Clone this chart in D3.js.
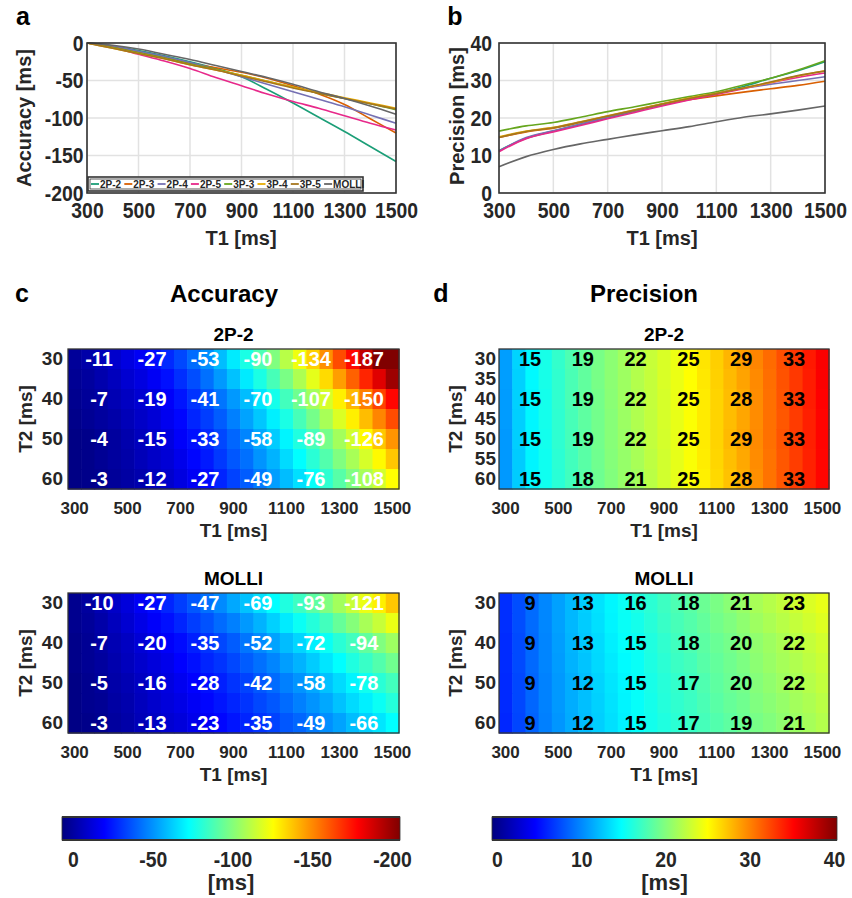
<!DOCTYPE html>
<html><head><meta charset="utf-8">
<script src="https://cdn.jsdelivr.net/npm/d3@7"></script>
<style>
body{margin:0;background:#fff;}
svg{display:block;}
text{font-family:"Liberation Sans",Arial,Helvetica,sans-serif;}
</style>
</head><body>
<svg id="chart" width="852" height="898"></svg>
<script>
// ---------------- DATA ----------------
const seriesNames = ["2P-2","2P-3","2P-4","2P-5","3P-3","3P-4","3P-5","MOLLI"];
const lineT1 = [300,400,500,600,700,800,900,1000,1100,1200,1300,1400,1500];

// panel a: accuracy [ms] per series at lineT1
const acc_2P2  = [0,-4,-10,-17,-25,-34,-45,-62,-80,-99,-118,-138,-158];
const acc_2P3  = [0,-5,-12,-19,-27,-33,-39,-47,-57,-68,-82,-101,-120];
const acc_2P4  = [0,-4,-11,-18,-26,-35,-45,-55,-65,-75,-85,-96,-107];
const acc_2P5  = [0,-6,-15,-24,-34,-46,-57,-68,-78,-87,-97,-107,-116];
const acc_3P3  = [0,-6,-13,-20,-28,-35,-43,-51,-59,-67,-74,-81,-89];
const acc_3P4  = [0,-7,-14,-21,-29,-36,-43,-51,-59,-66,-73,-80,-87];
const acc_3P5  = [0,-7,-14,-21,-29,-36,-44,-52,-60,-67,-74,-81,-88];
const acc_MOLLI= [0,-3,-8,-15,-22,-30,-38,-46,-55,-65,-74,-84,-95];

// panel b: precision [ms] per series at lineT1
const prec_2P2  = [11.3,14.6,16.5,18.3,20.0,21.8,23.5,25.0,26.5,28.4,30.6,32.6,35.0];
const prec_2P3  = [14.8,16.3,17.3,18.8,20.4,22.0,23.6,24.9,25.9,26.9,27.8,28.7,29.8];
const prec_2P4  = [11.2,14.8,16.6,18.4,20.2,22.0,23.7,25.2,26.6,27.9,29.0,30.0,31.0];
const prec_2P5  = [11.0,14.5,16.3,18.0,19.8,21.5,23.2,24.8,26.3,27.8,29.4,30.8,32.0];
const prec_3P3  = [16.5,17.9,18.8,20.2,21.7,23.0,24.4,25.7,27.0,28.8,30.6,32.8,35.3];
const prec_3P4  = [15.0,16.5,17.5,19.0,20.6,22.2,23.8,25.3,26.6,28.0,29.5,31.2,32.6];
const prec_3P5  = [14.8,16.4,17.4,18.9,20.5,22.1,23.7,25.2,26.5,28.0,29.6,31.3,32.5];
const prec_MOLLI= [7.0,9.7,11.6,13.1,14.3,15.5,16.6,17.7,19.0,20.2,21.1,22.1,23.2];

// heatmap grid
const gridT1 = [300,350,400,450,500,550,600,650,700,750,800,850,900,950,1000,1050,1100,1150,1200,1250,1300,1350,1400,1450,1500];
const gridT2 = [30,35,40,45,50,55,60];

const accMap_2P2 = [
 [-5,-8,-11,-15,-19,-23,-27,-33,-39,-46,-53,-62,-71,-80,-90,-100,-111,-122,-134,-147,-160,-173,-187,-201,-215],
 [-4,-6,-9,-12,-16,-19,-23,-28,-34,-40,-47,-55,-63,-71,-80,-89,-99,-109,-120,-132,-144,-156,-168,-181,-194],
 [-3,-5,-7,-10,-13,-16,-19,-24,-29,-35,-41,-48,-55,-62,-70,-79,-88,-97,-107,-117,-128,-139,-150,-162,-174],
 [-2,-4,-6,-8,-11,-14,-17,-22,-26,-32,-37,-43,-50,-57,-64,-72,-80,-89,-98,-108,-118,-128,-138,-149,-160],
 [-1,-2,-4,-6,-9,-12,-15,-19,-24,-28,-33,-39,-45,-51,-58,-65,-73,-81,-89,-98,-107,-116,-126,-136,-146],
 [-1,-2,-4,-6,-8,-11,-14,-17,-21,-26,-30,-36,-42,-47,-54,-60,-68,-75,-83,-91,-100,-108,-117,-126,-136],
 [-1,-2,-3,-5,-7,-9,-12,-15,-19,-23,-27,-32,-38,-43,-49,-56,-62,-69,-76,-84,-92,-100,-108,-116,-125]
];
const accMap_MOLLI = [
 [-3,-6,-10,-14,-18,-23,-27,-32,-37,-42,-47,-52,-58,-63,-69,-75,-81,-87,-93,-100,-107,-114,-121,-128,-136],
 [-3,-5,-8,-12,-16,-20,-24,-28,-32,-37,-41,-46,-50,-55,-60,-66,-71,-77,-82,-88,-95,-101,-108,-114,-121],
 [-2,-4,-7,-10,-13,-17,-20,-24,-27,-31,-35,-39,-43,-48,-52,-57,-62,-67,-72,-77,-83,-88,-94,-100,-106],
 [-2,-4,-6,-9,-12,-15,-18,-21,-25,-28,-32,-35,-39,-43,-47,-51,-56,-60,-65,-70,-75,-81,-86,-91,-97],
 [-1,-3,-5,-8,-10,-13,-16,-19,-22,-25,-28,-31,-35,-38,-42,-46,-50,-54,-58,-63,-68,-73,-78,-83,-88],
 [-1,-3,-4,-7,-9,-12,-15,-18,-20,-23,-26,-29,-32,-35,-39,-42,-46,-50,-54,-58,-63,-68,-72,-77,-82],
 [-1,-2,-3,-6,-8,-11,-13,-16,-18,-21,-23,-26,-29,-32,-35,-38,-42,-45,-49,-53,-57,-62,-66,-70,-75]
];
const precMap_2P2 = [
 [11.2,13.3,14.8,15.9,17.0,18.0,18.9,19.7,20.5,21.3,22.0,22.8,23.5,24.3,25.1,26.0,26.9,27.9,28.8,29.8,30.8,31.9,32.9,34.0,35.2],
 [11.2,13.2,14.8,15.9,16.9,17.9,18.8,19.7,20.5,21.2,22.0,22.7,23.5,24.2,25.0,25.9,26.8,27.7,28.6,29.6,30.7,31.8,32.8,33.9,35.1],
 [11.1,13.2,14.7,15.8,16.9,17.9,18.8,19.6,20.4,21.2,21.9,22.7,23.4,24.2,25.0,25.8,26.7,27.6,28.4,29.5,30.6,31.7,32.8,33.9,35.0],
 [11.1,13.1,14.7,15.8,16.8,17.8,18.7,19.5,20.3,21.1,21.9,22.6,23.4,24.1,24.9,25.8,26.7,27.6,28.5,29.5,30.6,31.6,32.7,33.8,34.9],
 [11.0,13.1,14.7,15.7,16.8,17.7,18.6,19.5,20.3,21.0,21.8,22.6,23.3,24.1,24.9,25.8,26.7,27.7,28.6,29.6,30.6,31.7,32.7,33.8,34.9],
 [11.0,13.0,14.6,15.6,16.7,17.6,18.5,19.4,20.2,20.9,21.6,22.4,23.2,24.0,24.8,25.7,26.6,27.5,28.4,29.5,30.5,31.6,32.6,33.7,34.8],
 [11.0,13.0,14.6,15.6,16.6,17.5,18.4,19.3,20.1,20.9,21.4,22.3,23.2,24.0,24.8,25.6,26.5,27.4,28.3,29.4,30.5,31.6,32.6,33.7,34.8]
];
const precMap_MOLLI = [
 [6.8,8.0,9.2,10.3,11.3,12.2,13.1,13.9,14.7,15.4,16.1,16.7,17.4,18.0,18.5,19.2,19.8,20.4,21.0,21.6,22.1,22.6,23.1,23.6,24.1],
 [6.8,8.0,9.2,10.3,11.3,12.2,13.0,13.8,14.6,15.3,15.8,16.5,17.2,17.8,18.3,18.9,19.5,20.0,20.6,21.2,21.7,22.2,22.7,23.2,23.7],
 [6.7,7.9,9.1,10.2,11.2,12.1,12.9,13.6,14.4,15.1,15.4,16.2,16.9,17.5,18.0,18.6,19.1,19.6,20.2,20.7,21.2,21.7,22.2,22.7,23.2],
 [6.7,7.9,9.1,10.2,11.1,12.0,12.7,13.5,14.2,14.9,15.3,16.1,16.7,17.3,17.7,18.4,18.9,19.4,19.9,20.5,21.0,21.5,21.9,22.4,22.9],
 [6.6,7.8,9.0,10.1,11.0,11.8,12.5,13.3,14.0,14.7,15.2,15.9,16.5,17.0,17.4,18.1,18.7,19.2,19.6,20.2,20.7,21.2,21.6,22.1,22.6],
 [6.6,7.8,9.0,10.1,11.0,11.8,12.5,13.2,13.9,14.6,15.2,15.8,16.4,16.9,17.3,17.9,18.5,19.0,19.4,20.0,20.4,20.9,21.4,21.8,22.3],
 [6.5,7.7,8.9,10.0,10.9,11.7,12.4,13.1,13.8,14.5,15.1,15.7,16.2,16.7,17.2,17.7,18.2,18.7,19.2,19.7,20.1,20.6,21.1,21.5,22.0]
];

// annotated values
const labelT1 = [400,600,800,1000,1200,1400];
const labelT2 = [30,40,50,60];
const accLab_2P2   = [[-11,-27,-53,-90,-134,-187],[-7,-19,-41,-70,-107,-150],[-4,-15,-33,-58,-89,-126],[-3,-12,-27,-49,-76,-108]];
const accLab_MOLLI = [[-10,-27,-47,-69,-93,-121],[-7,-20,-35,-52,-72,-94],[-5,-16,-28,-42,-58,-78],[-3,-13,-23,-35,-49,-66]];
const precLab_2P2  = [[15,19,22,25,29,33],[15,19,22,25,28,33],[15,19,22,25,29,33],[15,18,21,25,28,33]];
const precLab_MOLLI= [[9,13,16,18,21,23],[9,13,15,18,20,22],[9,12,15,17,20,22],[9,12,15,17,19,21]];

// ticks
const lineXTicks = [300,500,700,900,1100,1300,1500];
const accYTicks = [0,-50,-100,-150,-200];
const precYTicks = [0,10,20,30,40];
const heatXTicks = [300,500,700,900,1100,1300,1500];
const heatYTicksA = [30,40,50,60];
const heatYTicksB = [30,35,40,45,50,55,60];
const accBarTicks = [0,-50,-100,-150,-200];
const precBarTicks = [0,10,20,30,40];

// ---------------- STYLE ----------------
const palette = ["#1b9e77","#d95f02","#7570b3","#e7298a","#66a61e","#e6ab02","#a6761d","#666666"];
const ink = "#262626";
const gridCol = "#e2e2e2";

function jet(t){
  t = Math.max(0, Math.min(1, t));
  const c = v => Math.round(255*Math.max(0, Math.min(1, v)));
  return `rgb(${c(Math.min(4*t-1.5, -4*t+4.5))},${c(Math.min(4*t-0.5, -4*t+3.5))},${c(Math.min(4*t+0.5, -4*t+2.5))})`;
}
const accColor = d3.scaleSequential(jet).domain([0,-200]);
const precColor = d3.scaleSequential(jet).domain([0,40]);

const svg = d3.select("#chart");

function styleAxis(g, size, weight, sx){
  g.select(".domain").remove();
  g.selectAll(".tick line").remove();
  g.attr("font-family", null).attr("font-size", null);
  const t = g.selectAll("text").attr("fill", ink).attr("font-size", size).attr("font-weight", weight || "bold");
  if (sx) t.attr("transform", `scale(${sx},1)`);
}

function txt(x, y, s, size, opts){
  opts = opts || {};
  const t = svg.append("text").attr("x", x).attr("y", y).text(s)
    .attr("font-size", size).attr("font-weight", opts.weight || "bold")
    .attr("fill", opts.fill || ink).attr("text-anchor", opts.anchor || "middle");
  if (opts.rotate) t.attr("transform", `rotate(-90,${x},${y})`);
  return t;
}

// ---------------- LINE CHARTS ----------------
function lineChart(p){
  const x = d3.scaleLinear().domain([300,1500]).range([p.x0, p.x1]);
  const y = d3.scaleLinear().domain(p.ydom).range([p.y1, p.y0]);
  const g = svg.append("g");
  g.selectAll(".vg").data(lineXTicks).join("line")
    .attr("x1", d=>x(d)).attr("x2", d=>x(d)).attr("y1", p.y0).attr("y2", p.y1)
    .attr("stroke", gridCol).attr("stroke-width", 1.5);
  g.selectAll(".hg").data(p.yticks).join("line")
    .attr("y1", d=>y(d)).attr("y2", d=>y(d)).attr("x1", p.x0).attr("x2", p.x1)
    .attr("stroke", gridCol).attr("stroke-width", 1.5);
  const line = d3.line().x((d,i)=>x(lineT1[i])).y(d=>y(d)).curve(d3.curveMonotoneX);
  p.series.forEach((s,i)=>{
    g.append("path").datum(s).attr("d", line).attr("fill","none")
      .attr("stroke", palette[i]).attr("stroke-width", 1.6);
  });
  g.append("rect").attr("x", p.x0).attr("y", p.y0).attr("width", p.x1-p.x0).attr("height", p.y1-p.y0)
    .attr("fill","none").attr("stroke","#333").attr("stroke-width",1.6);
  svg.append("g").attr("transform",`translate(0,${p.y1})`)
    .call(d3.axisBottom(x).tickValues(lineXTicks).tickSize(0).tickPadding(9).tickFormat(d3.format("d")))
    .call(g=>styleAxis(g, 22, "bold", 0.88));
  svg.append("g").attr("transform",`translate(${p.x0},0)`)
    .call(d3.axisLeft(y).tickValues(p.yticks).tickSize(0).tickPadding(p.ypad).tickFormat(d=>d3.format("d")(d).replace("−","-")))
    .call(g=>styleAxis(g, 22, "bold", 0.88));
  return {x,y,g};
}

lineChart({x0:87, x1:396, y0:43, y1:193, ydom:[-200,0], yticks:accYTicks, ypad:4,
  series:[acc_2P2,acc_2P3,acc_2P4,acc_2P5,acc_3P3,acc_3P4,acc_3P5,acc_MOLLI]});
lineChart({x0:499, x1:825, y0:43, y1:193, ydom:[0,40], yticks:precYTicks, ypad:8,
  series:[prec_2P2,prec_2P3,prec_2P4,prec_2P5,prec_3P3,prec_3P4,prec_3P5,prec_MOLLI]});

// legend in panel a
{
  const lx = 88, ly = 177, lw = 275, lh = 14;
  const lg = svg.append("g");
  lg.append("rect").attr("x", lx).attr("y", ly).attr("width", lw).attr("height", lh)
    .attr("fill","#fff").attr("stroke","#333").attr("stroke-width",1.6);
  lg.append("rect").attr("x", lx+2).attr("y", ly+2).attr("width", lw-4).attr("height", lh-4)
    .attr("fill","none").attr("stroke","#333").attr("stroke-width",0.8);
  seriesNames.forEach((n,i)=>{
    const ex = lx + 3 + i*33.3;
    lg.append("line").attr("x1", ex).attr("x2", ex+8).attr("y1", ly+lh/2).attr("y2", ly+lh/2)
      .attr("stroke", palette[i]).attr("stroke-width", 1.8);
    lg.append("text").attr("x", ex+9).attr("y", ly+lh/2+3.6).text(n)
      .attr("font-size", 10).attr("font-weight","bold").attr("fill", ink);
  });
}

// panel labels and axis titles
txt(23, 25, "a", 25, {fill:"#000"});
txt(455, 25, "b", 25, {fill:"#000"});
txt(31, 118, "Accuracy [ms]", 20, {rotate:true});
txt(464, 116, "Precision [ms]", 20, {rotate:true});
txt(241, 245, "T1 [ms]", 20);
txt(662, 245, "T1 [ms]", 20);

// ---------------- HEATMAPS ----------------
function heatmap(p){
  const x = d3.scaleBand().domain(gridT1).range([p.x0, p.x1]);
  const y = d3.scaleBand().domain(gridT2).range([p.y0, p.y1]);
  const g = svg.append("g");
  const cells = [];
  p.grid.forEach((row,r)=>row.forEach((v,c)=>cells.push({t1:gridT1[c], t2:gridT2[r], v})));
  g.selectAll("rect.cell").data(cells).join("rect")
    .attr("x", d=>x(d.t1)).attr("y", d=>y(d.t2))
    .attr("width", x.bandwidth()+0.6).attr("height", y.bandwidth()+0.6)
    .attr("fill", d=>p.color(d.v));
  const labs = [];
  p.labels.forEach((row,r)=>row.forEach((v,c)=>labs.push({t1:labelT1[c], t2:labelT2[r], v})));
  g.selectAll("text.val").data(labs).join("text")
    .attr("x", d=>x(d.t1)+x.bandwidth()/2 - 2).attr("y", d=>y(d.t2)+y.bandwidth()/2).attr("dy","0.36em")
    .attr("text-anchor","middle").attr("font-size",20).attr("font-weight","bold")
    .attr("fill", p.textFill).text(d=>d.v);
  g.append("rect").attr("x", p.x0).attr("y", p.y0).attr("width", p.x1-p.x0).attr("height", p.y1-p.y0)
    .attr("fill","none").attr("stroke","#333").attr("stroke-width",1.3);
  svg.append("g").attr("transform",`translate(0,${p.y1})`)
    .call(d3.axisBottom(x).tickValues(heatXTicks).tickSize(0).tickPadding(13))
    .call(g=>styleAxis(g, 17));
  svg.append("g").attr("transform",`translate(${p.x0},0)`)
    .call(d3.axisLeft(y).tickValues(p.yticks).tickSize(0).tickPadding(p.ypad))
    .call(g=>styleAxis(g, 19));
  const cx = (p.x0+p.x1)/2;
  txt(cx, p.y0-8, p.title, 19, {fill:"#000"});
  txt(cx, p.y1+48, "T1 [ms]", 19);
  txt(p.labX, (p.y0+p.y1)/2, "T2 [ms]", 19, {rotate:true});
}

heatmap({x0:68, x1:399, y0:349, y1:489, grid:accMap_2P2, labels:accLab_2P2, color:accColor,
  textFill:"#fff", yticks:heatYTicksA, ypad:5, title:"2P-2", labX:32});
heatmap({x0:68, x1:399, y0:593, y1:733, grid:accMap_MOLLI, labels:accLab_MOLLI, color:accColor,
  textFill:"#fff", yticks:heatYTicksA, ypad:5, title:"MOLLI", labX:32});
heatmap({x0:499, x1:829, y0:349, y1:489, grid:precMap_2P2, labels:precLab_2P2, color:precColor,
  textFill:"#000", yticks:heatYTicksB, ypad:3, title:"2P-2", labX:462});
heatmap({x0:499, x1:829, y0:593, y1:733, grid:precMap_MOLLI, labels:precLab_MOLLI, color:precColor,
  textFill:"#000", yticks:heatYTicksA, ypad:3, title:"MOLLI", labX:462});

// section headers
txt(22, 302, "c", 25, {fill:"#000"});
txt(224, 302, "Accuracy", 24, {fill:"#000"});
txt(441, 302, "d", 25, {fill:"#000"});
txt(644, 302, "Precision", 24, {fill:"#000"});

// ---------------- COLORBARS ----------------
const defs = svg.append("defs");
function colorbar(p){
  const id = p.id;
  const grad = defs.append("linearGradient").attr("id", id).attr("x1","0%").attr("x2","100%");
  d3.range(0, 1.0001, 1/64).forEach(t=>{
    grad.append("stop").attr("offset", (t*100)+"%").attr("stop-color", jet(t));
  });
  svg.append("rect").attr("x", p.x0).attr("y", p.y0).attr("width", p.x1-p.x0).attr("height", p.y1-p.y0)
    .attr("fill", `url(#${id})`).attr("stroke","#333").attr("stroke-width",0.8);
  svg.append("line").attr("x1",p.x0).attr("x2",p.x1).attr("y1",p.y0).attr("y2",p.y0).attr("stroke","#333").attr("stroke-width",2);
  svg.append("line").attr("x1",p.x0).attr("x2",p.x1).attr("y1",p.y1).attr("y2",p.y1).attr("stroke","#333").attr("stroke-width",2);
  const s = d3.scaleLinear().domain(p.dom).range(p.trange);
  svg.append("g").attr("transform",`translate(0,${p.y1})`)
    .call(d3.axisBottom(s).tickValues(p.ticks).tickSize(0).tickPadding(11).tickFormat(d=>String(d)))
    .call(g=>styleAxis(g, 22, "bold", 0.88));
  txt((p.x0+p.x1)/2, 890, "[ms]", 22, {weight:"bold"});
}
colorbar({id:"gA", x0:62, x1:400, y0:817, y1:840, dom:[0,-200], trange:[73,392], ticks:accBarTicks});
colorbar({id:"gB", x0:492, x1:837, y0:817, y1:840, dom:[0,40], trange:[497,834], ticks:precBarTicks});
</script>
</body></html>
